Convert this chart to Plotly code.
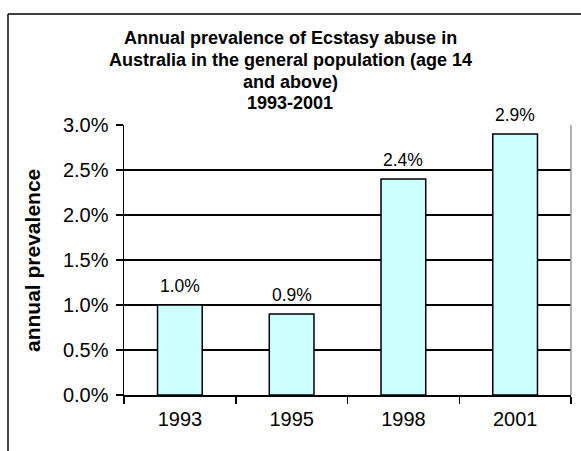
import plotly.graph_objects as go

years = ["1993", "1995", "1998", "2001"]
prevalence = [1.0, 0.9, 2.4, 2.9]
data_labels = ["1.0%", "0.9%", "2.4%", "2.9%"]
y_ticks = [0.0, 0.5, 1.0, 1.5, 2.0, 2.5, 3.0]
y_tick_labels = ["0.0%", "0.5%", "1.0%", "1.5%", "2.0%", "2.5%", "3.0%"]
title_lines = ["Annual prevalence of Ecstasy abuse in",
               "Australia in the general population (age 14",
               "and above)",
               "1993-2001"]
y_title = "annual prevalence"

W, H = 581, 451
L, R, T, B = 124, 571, 125, 395
FONT = "Liberation Sans, Arial, sans-serif"

def px(x):
    return (x - L) / (R - L)

def py(y):
    return (B - y) / (B - T)

fig = go.Figure()
fig.add_trace(go.Bar(
    x=years, y=prevalence, width=0.4,
    marker=dict(color="#CCFFFF", line=dict(color="black", width=1.5)),
    hoverinfo="skip",
))

annotations = []
for i, (v, lab) in enumerate(zip(prevalence, data_labels)):
    annotations.append(dict(x=i, y=v, xref="x", yref="y", text=lab, showarrow=False,
                            yanchor="bottom", yshift=7,
                            font=dict(family=FONT, size=17.5, color="black")))

title_y = [38, 60, 82, 103]
for line, cy in zip(title_lines, title_y):
    annotations.append(dict(x=px(290), y=py(cy), xref="paper", yref="paper", text="<b>%s</b>" % line,
                            showarrow=False, xanchor="center", yanchor="middle",
                            font=dict(family=FONT, size=18, color="black")))

annotations.append(dict(x=px(32), y=py(261), xref="paper", yref="paper", text="<b>%s</b>" % y_title,
                        showarrow=False, textangle=-90, xanchor="center", yanchor="middle",
                        font=dict(family=FONT, size=21, color="black")))

fig.update_layout(
    width=W, height=H,
    margin=dict(l=L, r=W - R, t=T, b=H - B, pad=0),
    paper_bgcolor="white", plot_bgcolor="white",
    showlegend=False,
    bargap=0.6,
    annotations=annotations,
    shapes=[
        dict(type="line", xref="paper", yref="paper", x0=px(8), x1=px(600), y0=py(14), y1=py(14),
             line=dict(color="black", width=1.5)),
        dict(type="line", xref="paper", yref="paper", x0=px(8), x1=px(8), y0=py(14), y1=py(470),
             line=dict(color="black", width=1.5)),
        dict(type="line", xref="paper", yref="paper", x0=1, x1=1, y0=0, y1=1,
             line=dict(color="#999999", width=1.5)),
    ],
    xaxis=dict(
        type="category", tickson="boundaries", ticks="outside", ticklen=7, tickwidth=1.5,
        tickcolor="black", showline=True, linecolor="black", linewidth=1.5,
        showgrid=False, tickfont=dict(family=FONT, size=20, color="black"),
        ticklabelstandoff=5, fixedrange=True,
    ),
    yaxis=dict(
        range=[0, 3.0], tickvals=y_ticks, ticktext=y_tick_labels,
        ticks="outside", ticklen=7, tickwidth=1.5, tickcolor="black",
        showline=True, linecolor="black", linewidth=1.5,
        showgrid=True, gridcolor="black", gridwidth=1.2, zeroline=False,
        tickfont=dict(family=FONT, size=20, color="black"),
        ticklabelstandoff=3, fixedrange=True,
    ),
)

fig.write_html("out.html", config={"displayModeBar": False, "staticPlot": True},
               post_script="document.body.style.margin='0';document.body.style.padding='0';")
